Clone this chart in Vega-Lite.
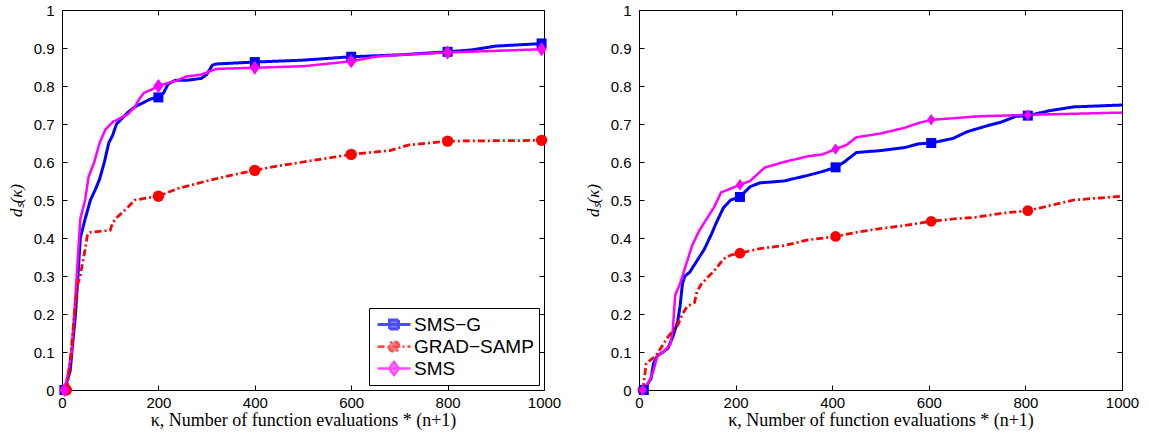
{
 "$schema": "https://vega.github.io/schema/vega-lite/v6.json",
 "padding": {"left": 6, "top": 2, "right": 5, "bottom": 5},
 "spacing": 21,
 "background": "white",
 "datasets": {
  "curves": [
   {"p":"L","s":"SMS−G","x":5,"y":0},{"p":"L","s":"SMS−G","x":12,"y":0.03},{"p":"L","s":"SMS−G","x":17,"y":0.05},{"p":"L","s":"SMS−G","x":22,"y":0.12},{"p":"L","s":"SMS−G","x":28,"y":0.2},{"p":"L","s":"SMS−G","x":33,"y":0.3},{"p":"L","s":"SMS−G","x":38,"y":0.4},{"p":"L","s":"SMS−G","x":48,"y":0.45},{"p":"L","s":"SMS−G","x":59,"y":0.5},{"p":"L","s":"SMS−G","x":70,"y":0.53},{"p":"L","s":"SMS−G","x":78,"y":0.555},{"p":"L","s":"SMS−G","x":88,"y":0.6},{"p":"L","s":"SMS−G","x":97,"y":0.65},{"p":"L","s":"SMS−G","x":105,"y":0.67},{"p":"L","s":"SMS−G","x":113,"y":0.7},{"p":"L","s":"SMS−G","x":125,"y":0.715},{"p":"L","s":"SMS−G","x":136,"y":0.73},{"p":"L","s":"SMS−G","x":151,"y":0.745},{"p":"L","s":"SMS−G","x":170,"y":0.757},{"p":"L","s":"SMS−G","x":182,"y":0.765},{"p":"L","s":"SMS−G","x":200,"y":0.772},{"p":"L","s":"SMS−G","x":210,"y":0.78},{"p":"L","s":"SMS−G","x":220,"y":0.805},{"p":"L","s":"SMS−G","x":235,"y":0.815},{"p":"L","s":"SMS−G","x":258,"y":0.815},{"p":"L","s":"SMS−G","x":289,"y":0.82},{"p":"L","s":"SMS−G","x":300,"y":0.83},{"p":"L","s":"SMS−G","x":312,"y":0.855},{"p":"L","s":"SMS−G","x":320,"y":0.858},{"p":"L","s":"SMS−G","x":400,"y":0.863},{"p":"L","s":"SMS−G","x":500,"y":0.868},{"p":"L","s":"SMS−G","x":600,"y":0.877},{"p":"L","s":"SMS−G","x":700,"y":0.882},{"p":"L","s":"SMS−G","x":800,"y":0.89},{"p":"L","s":"SMS−G","x":850,"y":0.895},{"p":"L","s":"SMS−G","x":900,"y":0.905},{"p":"L","s":"SMS−G","x":1000,"y":0.912},
   {"p":"L","s":"SMS","x":5,"y":0},{"p":"L","s":"SMS","x":12,"y":0.04},{"p":"L","s":"SMS","x":20,"y":0.1},{"p":"L","s":"SMS","x":28,"y":0.25},{"p":"L","s":"SMS","x":33,"y":0.35},{"p":"L","s":"SMS","x":38,"y":0.45},{"p":"L","s":"SMS","x":48,"y":0.5},{"p":"L","s":"SMS","x":55,"y":0.56},{"p":"L","s":"SMS","x":67,"y":0.6},{"p":"L","s":"SMS","x":78,"y":0.65},{"p":"L","s":"SMS","x":90,"y":0.685},{"p":"L","s":"SMS","x":105,"y":0.705},{"p":"L","s":"SMS","x":120,"y":0.715},{"p":"L","s":"SMS","x":136,"y":0.725},{"p":"L","s":"SMS","x":151,"y":0.745},{"p":"L","s":"SMS","x":160,"y":0.765},{"p":"L","s":"SMS","x":170,"y":0.782},{"p":"L","s":"SMS","x":185,"y":0.79},{"p":"L","s":"SMS","x":200,"y":0.8},{"p":"L","s":"SMS","x":220,"y":0.808},{"p":"L","s":"SMS","x":240,"y":0.815},{"p":"L","s":"SMS","x":258,"y":0.825},{"p":"L","s":"SMS","x":289,"y":0.83},{"p":"L","s":"SMS","x":320,"y":0.845},{"p":"L","s":"SMS","x":400,"y":0.848},{"p":"L","s":"SMS","x":500,"y":0.852},{"p":"L","s":"SMS","x":600,"y":0.865},{"p":"L","s":"SMS","x":650,"y":0.877},{"p":"L","s":"SMS","x":700,"y":0.882},{"p":"L","s":"SMS","x":800,"y":0.888},{"p":"L","s":"SMS","x":1000,"y":0.897},
   {"p":"L","s":"GRAD−SAMP","x":10,"y":0},{"p":"L","s":"GRAD−SAMP","x":15,"y":0.05},{"p":"L","s":"GRAD−SAMP","x":20,"y":0.12},{"p":"L","s":"GRAD−SAMP","x":28,"y":0.23},{"p":"L","s":"GRAD−SAMP","x":33,"y":0.28},{"p":"L","s":"GRAD−SAMP","x":38,"y":0.3},{"p":"L","s":"GRAD−SAMP","x":42,"y":0.33},{"p":"L","s":"GRAD−SAMP","x":48,"y":0.37},{"p":"L","s":"GRAD−SAMP","x":53,"y":0.41},{"p":"L","s":"GRAD−SAMP","x":59,"y":0.415},{"p":"L","s":"GRAD−SAMP","x":100,"y":0.42},{"p":"L","s":"GRAD−SAMP","x":105,"y":0.44},{"p":"L","s":"GRAD−SAMP","x":115,"y":0.455},{"p":"L","s":"GRAD−SAMP","x":136,"y":0.48},{"p":"L","s":"GRAD−SAMP","x":151,"y":0.5},{"p":"L","s":"GRAD−SAMP","x":200,"y":0.51},{"p":"L","s":"GRAD−SAMP","x":240,"y":0.53},{"p":"L","s":"GRAD−SAMP","x":300,"y":0.55},{"p":"L","s":"GRAD−SAMP","x":350,"y":0.565},{"p":"L","s":"GRAD−SAMP","x":400,"y":0.578},{"p":"L","s":"GRAD−SAMP","x":450,"y":0.59},{"p":"L","s":"GRAD−SAMP","x":500,"y":0.6},{"p":"L","s":"GRAD−SAMP","x":600,"y":0.62},{"p":"L","s":"GRAD−SAMP","x":680,"y":0.63},{"p":"L","s":"GRAD−SAMP","x":720,"y":0.645},{"p":"L","s":"GRAD−SAMP","x":800,"y":0.655},{"p":"L","s":"GRAD−SAMP","x":1000,"y":0.657},
   {"p":"R","s":"SMS−G","x":10,"y":0},{"p":"R","s":"SMS−G","x":15,"y":0.01},{"p":"R","s":"SMS−G","x":25,"y":0.03},{"p":"R","s":"SMS−G","x":30,"y":0.07},{"p":"R","s":"SMS−G","x":38,"y":0.09},{"p":"R","s":"SMS−G","x":50,"y":0.1},{"p":"R","s":"SMS−G","x":60,"y":0.11},{"p":"R","s":"SMS−G","x":70,"y":0.14},{"p":"R","s":"SMS−G","x":80,"y":0.18},{"p":"R","s":"SMS−G","x":85,"y":0.22},{"p":"R","s":"SMS−G","x":90,"y":0.28},{"p":"R","s":"SMS−G","x":95,"y":0.3},{"p":"R","s":"SMS−G","x":105,"y":0.31},{"p":"R","s":"SMS−G","x":120,"y":0.34},{"p":"R","s":"SMS−G","x":135,"y":0.37},{"p":"R","s":"SMS−G","x":150,"y":0.41},{"p":"R","s":"SMS−G","x":160,"y":0.44},{"p":"R","s":"SMS−G","x":175,"y":0.48},{"p":"R","s":"SMS−G","x":190,"y":0.5},{"p":"R","s":"SMS−G","x":209,"y":0.508},{"p":"R","s":"SMS−G","x":230,"y":0.535},{"p":"R","s":"SMS−G","x":250,"y":0.545},{"p":"R","s":"SMS−G","x":300,"y":0.55},{"p":"R","s":"SMS−G","x":350,"y":0.565},{"p":"R","s":"SMS−G","x":380,"y":0.575},{"p":"R","s":"SMS−G","x":407,"y":0.586},{"p":"R","s":"SMS−G","x":425,"y":0.6},{"p":"R","s":"SMS−G","x":450,"y":0.625},{"p":"R","s":"SMS−G","x":500,"y":0.63},{"p":"R","s":"SMS−G","x":550,"y":0.638},{"p":"R","s":"SMS−G","x":580,"y":0.648},{"p":"R","s":"SMS−G","x":605,"y":0.65},{"p":"R","s":"SMS−G","x":650,"y":0.662},{"p":"R","s":"SMS−G","x":680,"y":0.68},{"p":"R","s":"SMS−G","x":720,"y":0.695},{"p":"R","s":"SMS−G","x":750,"y":0.705},{"p":"R","s":"SMS−G","x":780,"y":0.72},{"p":"R","s":"SMS−G","x":805,"y":0.722},{"p":"R","s":"SMS−G","x":850,"y":0.735},{"p":"R","s":"SMS−G","x":900,"y":0.745},{"p":"R","s":"SMS−G","x":1000,"y":0.75},
   {"p":"R","s":"SMS","x":8,"y":0},{"p":"R","s":"SMS","x":20,"y":0.02},{"p":"R","s":"SMS","x":30,"y":0.05},{"p":"R","s":"SMS","x":38,"y":0.09},{"p":"R","s":"SMS","x":50,"y":0.1},{"p":"R","s":"SMS","x":65,"y":0.12},{"p":"R","s":"SMS","x":70,"y":0.16},{"p":"R","s":"SMS","x":75,"y":0.25},{"p":"R","s":"SMS","x":85,"y":0.28},{"p":"R","s":"SMS","x":95,"y":0.32},{"p":"R","s":"SMS","x":110,"y":0.38},{"p":"R","s":"SMS","x":125,"y":0.42},{"p":"R","s":"SMS","x":140,"y":0.45},{"p":"R","s":"SMS","x":155,"y":0.48},{"p":"R","s":"SMS","x":170,"y":0.52},{"p":"R","s":"SMS","x":190,"y":0.53},{"p":"R","s":"SMS","x":209,"y":0.54},{"p":"R","s":"SMS","x":230,"y":0.55},{"p":"R","s":"SMS","x":260,"y":0.585},{"p":"R","s":"SMS","x":300,"y":0.6},{"p":"R","s":"SMS","x":350,"y":0.615},{"p":"R","s":"SMS","x":380,"y":0.62},{"p":"R","s":"SMS","x":407,"y":0.634},{"p":"R","s":"SMS","x":430,"y":0.645},{"p":"R","s":"SMS","x":450,"y":0.665},{"p":"R","s":"SMS","x":500,"y":0.675},{"p":"R","s":"SMS","x":550,"y":0.69},{"p":"R","s":"SMS","x":580,"y":0.703},{"p":"R","s":"SMS","x":605,"y":0.711},{"p":"R","s":"SMS","x":650,"y":0.715},{"p":"R","s":"SMS","x":700,"y":0.72},{"p":"R","s":"SMS","x":805,"y":0.724},{"p":"R","s":"SMS","x":1000,"y":0.73},
   {"p":"R","s":"GRAD−SAMP","x":8,"y":0},{"p":"R","s":"GRAD−SAMP","x":10,"y":0.02},{"p":"R","s":"GRAD−SAMP","x":15,"y":0.07},{"p":"R","s":"GRAD−SAMP","x":25,"y":0.08},{"p":"R","s":"GRAD−SAMP","x":35,"y":0.09},{"p":"R","s":"GRAD−SAMP","x":45,"y":0.11},{"p":"R","s":"GRAD−SAMP","x":60,"y":0.14},{"p":"R","s":"GRAD−SAMP","x":70,"y":0.155},{"p":"R","s":"GRAD−SAMP","x":80,"y":0.17},{"p":"R","s":"GRAD−SAMP","x":90,"y":0.2},{"p":"R","s":"GRAD−SAMP","x":100,"y":0.22},{"p":"R","s":"GRAD−SAMP","x":115,"y":0.23},{"p":"R","s":"GRAD−SAMP","x":120,"y":0.26},{"p":"R","s":"GRAD−SAMP","x":130,"y":0.28},{"p":"R","s":"GRAD−SAMP","x":145,"y":0.3},{"p":"R","s":"GRAD−SAMP","x":160,"y":0.32},{"p":"R","s":"GRAD−SAMP","x":175,"y":0.345},{"p":"R","s":"GRAD−SAMP","x":190,"y":0.355},{"p":"R","s":"GRAD−SAMP","x":209,"y":0.36},{"p":"R","s":"GRAD−SAMP","x":250,"y":0.372},{"p":"R","s":"GRAD−SAMP","x":300,"y":0.38},{"p":"R","s":"GRAD−SAMP","x":350,"y":0.395},{"p":"R","s":"GRAD−SAMP","x":407,"y":0.404},{"p":"R","s":"GRAD−SAMP","x":450,"y":0.415},{"p":"R","s":"GRAD−SAMP","x":500,"y":0.425},{"p":"R","s":"GRAD−SAMP","x":550,"y":0.433},{"p":"R","s":"GRAD−SAMP","x":605,"y":0.444},{"p":"R","s":"GRAD−SAMP","x":650,"y":0.45},{"p":"R","s":"GRAD−SAMP","x":700,"y":0.455},{"p":"R","s":"GRAD−SAMP","x":750,"y":0.465},{"p":"R","s":"GRAD−SAMP","x":805,"y":0.472},{"p":"R","s":"GRAD−SAMP","x":850,"y":0.485},{"p":"R","s":"GRAD−SAMP","x":900,"y":0.5},{"p":"R","s":"GRAD−SAMP","x":1000,"y":0.51}
  ],
  "markers": [
   {"p":"L","s":"GRAD−SAMP","x":9,"y":0},{"p":"L","s":"GRAD−SAMP","x":200,"y":0.51},{"p":"L","s":"GRAD−SAMP","x":400,"y":0.578},{"p":"L","s":"GRAD−SAMP","x":600,"y":0.62},{"p":"L","s":"GRAD−SAMP","x":800,"y":0.655},{"p":"L","s":"GRAD−SAMP","x":995,"y":0.657},
   {"p":"L","s":"SMS−G","x":5,"y":0},{"p":"L","s":"SMS−G","x":200,"y":0.77},{"p":"L","s":"SMS−G","x":400,"y":0.863},{"p":"L","s":"SMS−G","x":600,"y":0.877},{"p":"L","s":"SMS−G","x":800,"y":0.89},{"p":"L","s":"SMS−G","x":995,"y":0.912},
   {"p":"L","s":"SMS","x":5,"y":0},{"p":"L","s":"SMS","x":200,"y":0.8},{"p":"L","s":"SMS","x":400,"y":0.848},{"p":"L","s":"SMS","x":600,"y":0.865},{"p":"L","s":"SMS","x":800,"y":0.888},{"p":"L","s":"SMS","x":995,"y":0.897},
   {"p":"R","s":"GRAD−SAMP","x":8,"y":0},{"p":"R","s":"GRAD−SAMP","x":209,"y":0.36},{"p":"R","s":"GRAD−SAMP","x":407,"y":0.404},{"p":"R","s":"GRAD−SAMP","x":605,"y":0.444},{"p":"R","s":"GRAD−SAMP","x":805,"y":0.472},
   {"p":"R","s":"SMS−G","x":10,"y":0},{"p":"R","s":"SMS−G","x":209,"y":0.508},{"p":"R","s":"SMS−G","x":407,"y":0.586},{"p":"R","s":"SMS−G","x":605,"y":0.65},{"p":"R","s":"SMS−G","x":805,"y":0.722},
   {"p":"R","s":"SMS","x":8,"y":0},{"p":"R","s":"SMS","x":209,"y":0.54},{"p":"R","s":"SMS","x":407,"y":0.634},{"p":"R","s":"SMS","x":605,"y":0.711},{"p":"R","s":"SMS","x":805,"y":0.724}
  ]
 },
 "hconcat": [
  {
   "width": 482, "height": 380,
   "layer": [
    {
     "data": {"name": "markers"},
     "transform": [{"filter": "datum.p === 'L' && datum.x < 0"}],
     "mark": {"type": "point", "filled": true},
     "encoding": {
      "x": {"field": "x", "type": "quantitative", "scale": {"domain": [0, 1000], "nice": false}, "axis": {"orient": "top", "labels": false, "title": null, "values": [0,200,400,600,800,1000], "tickSize": -5, "domain": false}},
      "y": {"field": "y", "type": "quantitative", "scale": {"domain": [0, 1], "nice": false}, "axis": {"orient": "right", "labels": false, "title": null, "values": [0,0.1,0.2,0.3,0.4,0.5,0.6,0.7,0.8,0.9,1], "tickSize": -5, "domain": false}},
      "fill": {"field": "s", "type": "nominal",
        "scale": {"domain": ["SMS−G", "GRAD−SAMP", "SMS"], "range": ["#0000ff", "#ff0000", "#ff00ff"]},
        "legend": {
          "orient": "bottom-right", "offset": 5, "padding": 5, "title": null,
          "strokeColor": "black", "fillColor": "white", "cornerRadius": 0,
          "labelFont": "Liberation Sans", "labelFontSize": 19, "labelColor": "black", "labelOffset": 17, "labelLimit": 300,
          "rowPadding": 0, "symbolSize": 400, "symbolStrokeWidth": 2, "symbolOpacity": 1
        }},
      "stroke": {"field": "s", "type": "nominal", "scale": {"domain": ["SMS−G", "GRAD−SAMP", "SMS"], "range": ["#0000ff", "#ff0000", "#ff00ff"]}},
      "shape": {"field": "s", "type": "nominal", "scale": {"domain": ["SMS−G", "GRAD−SAMP", "SMS"], "range": [
        "M-0.8,0L2.5,0M0.4,-0.45L1.3,-0.45L1.3,0.45L0.4,0.45Z",
        "M-0.8,0L2.5,0M0.35,0A0.5,0.5 0 1,0 1.35,0A0.5,0.5 0 1,0 0.35,0Z",
        "M-0.8,0L2.5,0M0.85,-0.65L1.35,0L0.85,0.65L0.35,0Z"]}}
     }
    },
    {
     "data": {"name": "curves"},
     "transform": [{"filter": "datum.p === 'L'"}],
     "mark": {"type": "line", "interpolate": "linear", "strokeJoin": "round"},
     "encoding": {
      "x": {"field": "x", "type": "quantitative",
            "axis": {"title": "κ, Number of function evaluations * (n+1)", "values": [0,200,400,600,800,1000], "format": "d", "tickSize": -5, "labelPadding": 10, "labelFlush": false, "titlePadding": 1, "domain": false}},
      "y": {"field": "y", "type": "quantitative",
            "axis": {"title": "dₛ(κ)", "values": [0,0.1,0.2,0.3,0.4,0.5,0.6,0.7,0.8,0.9,1], "format": "~g", "tickSize": -5, "labelPadding": 13, "labelFlush": false, "titlePadding": 8, "domain": false}},
      "stroke": {"field": "s", "type": "nominal", "legend": null},
      "strokeDash": {"field": "s", "type": "nominal", "scale": {"domain": ["SMS−G", "GRAD−SAMP", "SMS"], "range": [[1,0],[7,3,2,3],[1,0]]}, "legend": null},
      "strokeWidth": {"field": "s", "type": "nominal", "scale": {"domain": ["SMS−G", "GRAD−SAMP", "SMS"], "range": [3, 2.5, 3]}, "legend": null}
     }
    },
    {
     "data": {"name": "markers"},
     "transform": [{"filter": "datum.p === 'L' && datum.s === 'SMS−G'"}],
     "mark": {"type": "point", "filled": true, "opacity": 1, "shape": "square", "size": 100},
     "encoding": {
      "x": {"field": "x", "type": "quantitative", "axis": null},
      "y": {"field": "y", "type": "quantitative", "axis": null},
      "fill": {"field": "s", "type": "nominal", "legend": null}
     }
    },
    {
     "data": {"name": "markers"},
     "transform": [{"filter": "datum.p === 'L' && datum.s === 'GRAD−SAMP'"}],
     "mark": {"type": "point", "filled": true, "opacity": 1, "shape": "circle", "size": 130},
     "encoding": {
      "x": {"field": "x", "type": "quantitative", "axis": null},
      "y": {"field": "y", "type": "quantitative", "axis": null},
      "fill": {"field": "s", "type": "nominal", "legend": null}
     }
    },
    {
     "data": {"name": "markers"},
     "transform": [{"filter": "datum.p === 'L' && datum.s === 'SMS'"}],
     "mark": {"type": "point", "filled": true, "opacity": 1, "shape": "M-0.72,0L0,-1L0.72,0L0,1Z", "size": 200},
     "encoding": {
      "x": {"field": "x", "type": "quantitative", "axis": null},
      "y": {"field": "y", "type": "quantitative", "axis": null},
      "fill": {"field": "s", "type": "nominal", "legend": null}
     }
    }
   ],
   "resolve": {"axis": {"x": "independent", "y": "independent"}}
  },
  {
   "width": 483, "height": 380,
   "layer": [
    {
     "data": {"name": "curves"},
     "transform": [{"filter": "datum.p === 'R'"}],
     "mark": {"type": "line", "interpolate": "linear", "strokeJoin": "round"},
     "encoding": {
      "x": {"field": "x", "type": "quantitative", "scale": {"domain": [0, 1000], "nice": false},
            "axis": {"title": "κ, Number of function evaluations * (n+1)", "values": [0,200,400,600,800,1000], "format": "d", "tickSize": -5, "labelPadding": 10, "labelFlush": false, "titlePadding": 1, "domain": false}},
      "y": {"field": "y", "type": "quantitative", "scale": {"domain": [0, 1], "nice": false},
            "axis": {"title": "dₛ(κ)", "values": [0,0.1,0.2,0.3,0.4,0.5,0.6,0.7,0.8,0.9,1], "format": "~g", "tickSize": -5, "labelPadding": 13, "labelFlush": false, "titlePadding": 8, "domain": false}},
      "color": {"field": "s", "type": "nominal", "scale": {"domain": ["SMS−G", "GRAD−SAMP", "SMS"], "range": ["#0000ff", "#ff0000", "#ff00ff"]}, "legend": null},
      "strokeDash": {"field": "s", "type": "nominal", "scale": {"domain": ["SMS−G", "GRAD−SAMP", "SMS"], "range": [[1,0],[7,3,2,3],[1,0]]}, "legend": null},
      "strokeWidth": {"field": "s", "type": "nominal", "scale": {"domain": ["SMS−G", "GRAD−SAMP", "SMS"], "range": [3, 2.5, 3]}, "legend": null}
     }
    },
    {
     "data": {"name": "markers"},
     "transform": [{"filter": "datum.p === 'R'"}],
     "mark": {"type": "point", "filled": true, "opacity": 1},
     "encoding": {
      "x": {"field": "x", "type": "quantitative", "axis": {"orient": "top", "labels": false, "title": null, "values": [0,200,400,600,800,1000], "tickSize": -5, "domain": false}},
      "y": {"field": "y", "type": "quantitative", "axis": {"orient": "right", "labels": false, "title": null, "values": [0,0.1,0.2,0.3,0.4,0.5,0.6,0.7,0.8,0.9,1], "tickSize": -5, "domain": false}},
      "color": {"field": "s", "type": "nominal", "legend": null},
      "shape": {"field": "s", "type": "nominal", "scale": {"domain": ["SMS−G", "GRAD−SAMP", "SMS"], "range": ["square", "circle", "M-0.72,0L0,-1L0.72,0L0,1Z"]}, "legend": null},
      "size": {"field": "s", "type": "nominal", "scale": {"domain": ["SMS−G", "GRAD−SAMP", "SMS"], "range": [100, 130, 200]}, "legend": null}
     }
    }
   ],
   "resolve": {"axis": {"x": "independent", "y": "independent"}}
  }
 ],
 "resolve": {"scale": {"color": "independent", "fill": "independent", "stroke": "independent", "strokeDash": "independent", "strokeWidth": "independent", "shape": "independent", "size": "independent"}, "legend": {"fill": "independent", "color": "independent"}},
 "config": {
  "view": {"stroke": "black", "strokeWidth": 1},
  "axis": {"grid": false, "domainColor": "black", "tickColor": "black", "tickWidth": 1, "labelColor": "black", "labelFont": "Liberation Sans", "labelFontSize": 15, "titleColor": "black", "titleFont": "Liberation Serif", "titleFontWeight": "normal"},
  "axisX": {"titleFontSize": 18},
  "axisY": {"titleFontSize": 17, "titleFontStyle": "italic"}
 }
}
